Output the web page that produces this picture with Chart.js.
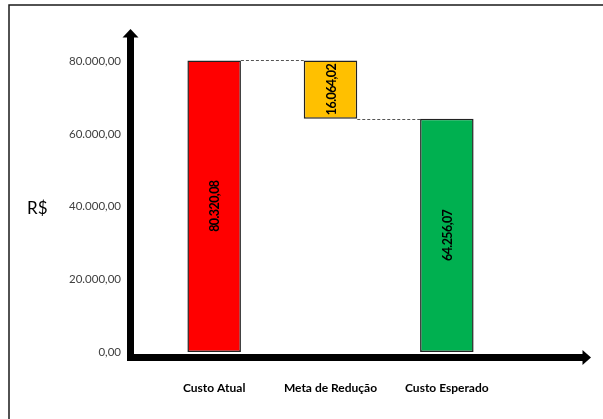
<!DOCTYPE html>
<html lang="pt-BR">
<head>
    <meta charset="UTF-8">
    <title>Meta de Redução de Custos</title>
    <script src="https://cdn.jsdelivr.net/npm/chart.js"></script>
    <style>
        body {
            margin: 0;
            background-color: #ffffff;
        }
        .chart-box {
            width: 603px;
            height: 419px;
        }
    </style>
</head>
<body>
    <div class="chart-box">
        <canvas id="costChart" width="603" height="419"></canvas>
    </div>

    <script>
        // Cost figures (R$)
        const categories = ['Custo Atual', 'Meta de Redução', 'Custo Esperado'];
        const values = [80320.08, 16064.02, 64256.07];
        const kinds = ['total', 'decrease', 'total'];
        const yTicks = [0, 20000, 40000, 60000, 80000];
        const yMax = 88000;
        const unitLabel = 'R$';

        const barColors = ['#FF0000', '#FFC000', '#00B050'];

        // pt-BR number format: 80.320,08
        function fmt(v) {
            const parts = v.toFixed(2).split('.');
            const intPart = parts[0].replace(/\B(?=(\d{3})+(?!\d))/g, '.');
            return intPart + ',' + parts[1];
        }

        // Build floating bars; a decrease hangs from the previous level
        const ranges = [];
        let level = 0;
        values.forEach((v, i) => {
            if (kinds[i] === 'total') {
                ranges.push([0, v]);
                level = v;
            } else {
                ranges.push([level - v, level]);
                level = level - v;
            }
        });

        const costPlugin = {
            id: 'costAxes',
            beforeDraw(chart) {
                const ctx = chart.ctx;
                ctx.save();
                ctx.fillStyle = '#ffffff';
                ctx.fillRect(0, 0, chart.width, chart.height);
                // outer frame (runs off the right and bottom edges)
                ctx.strokeStyle = '#1a1a1a';
                ctx.lineWidth = 1.5;
                ctx.strokeRect(9, 5, chart.width + 20, chart.height + 20);
                ctx.restore();
            },
            afterDatasetsDraw(chart) {
                const ctx = chart.ctx;
                const area = chart.chartArea;
                const y = chart.scales.y;
                const bars = chart.getDatasetMeta(0).data;

                ctx.save();

                // dashed connectors: top of a total -> next bar, bottom of a decrease -> next bar
                ctx.strokeStyle = '#555555';
                ctx.lineWidth = 1;
                ctx.setLineDash([3, 2]);
                for (let i = 0; i < bars.length - 1; i++) {
                    const a = bars[i], b = bars[i + 1];
                    const v = kinds[i] === 'total' ? ranges[i][1] : ranges[i][0];
                    const py = Math.round(y.getPixelForValue(v)) + 0.5;
                    ctx.beginPath();
                    ctx.moveTo(a.x + a.width / 2, py);
                    ctx.lineTo(b.x - b.width / 2, py);
                    ctx.stroke();
                }
                ctx.setLineDash([]);

                // thick black axes with arrow heads
                const ax = area.left - 25.5;
                const ay = area.bottom + 5.5;
                const topTip = area.top - 3.5;
                const rightTip = area.right + 86;
                const t = 7;
                ctx.fillStyle = '#000000';
                ctx.fillRect(ax - t / 2, topTip + 8, t, ay + t / 2 - (topTip + 8));
                ctx.beginPath();
                ctx.moveTo(ax, topTip);
                ctx.lineTo(ax + 8, topTip + 8.5);
                ctx.lineTo(ax - 8, topTip + 8.5);
                ctx.closePath();
                ctx.fill();
                ctx.fillRect(ax - t / 2, ay - t / 2, rightTip - 8 - (ax - t / 2), t);
                ctx.beginPath();
                ctx.moveTo(rightTip, ay);
                ctx.lineTo(rightTip - 8.5, ay - 7.5);
                ctx.lineTo(rightTip - 8.5, ay + 7.5);
                ctx.closePath();
                ctx.fill();

                // values written vertically inside the bars
                ctx.font = 'bold 12.5px Lato';
                ctx.letterSpacing = '-0.6px';
                ctx.fillStyle = '#000000';
                ctx.textAlign = 'center';
                ctx.textBaseline = 'middle';
                bars.forEach((bar, i) => {
                    ctx.save();
                    ctx.translate(bar.x + 1, (bar.y + bar.base) / 2);
                    ctx.rotate(-Math.PI / 2);
                    ctx.fillText(fmt(values[i]), 0, 0);
                    ctx.restore();
                });
                ctx.letterSpacing = '0px';

                // unit label beside the value axis
                ctx.font = '17px Lato';
                ctx.textAlign = 'left';
                ctx.fillText(unitLabel, 27, y.getPixelForValue(40000) + 2);

                ctx.restore();
            }
        };

        new Chart(document.getElementById('costChart'), {
            type: 'bar',
            data: {
                labels: categories,
                datasets: [{
                    data: ranges,
                    backgroundColor: barColors,
                    borderColor: '#222222',
                    borderWidth: 1.5,
                    borderSkipped: false,
                    barPercentage: 0.46,
                    categoryPercentage: 1
                }]
            },
            options: {
                responsive: false,
                animation: false,
                layout: {
                    padding: { left: 0, right: 98, top: 32.5, bottom: 0 }
                },
                plugins: {
                    legend: { display: false },
                    tooltip: { enabled: false }
                },
                scales: {
                    x: {
                        grid: { display: false, drawTicks: false },
                        border: { display: false },
                        afterFit: s => {
                            s.height = 67;
                            s.paddingLeft = 0;
                            s.paddingRight = 0;
                        },
                        ticks: {
                            padding: 29,
                            color: '#000000',
                            font: { family: 'Lato', size: 12, weight: 'bold' }
                        }
                    },
                    y: {
                        min: 0,
                        max: yMax,
                        grid: { display: false, drawTicks: false },
                        border: { display: false },
                        afterFit: s => {
                            s.width = 156;
                            s.paddingTop = 0;
                            s.paddingBottom = 0;
                        },
                        afterBuildTicks: s => { s.ticks = yTicks.map(v => ({ value: v })); },
                        ticks: {
                            padding: 35,
                            color: '#404040',
                            font: { family: 'Lato', size: 11.5 },
                            callback: v => fmt(v)
                        }
                    }
                }
            },
            plugins: [costPlugin]
        });
    </script>
</body>
</html>
